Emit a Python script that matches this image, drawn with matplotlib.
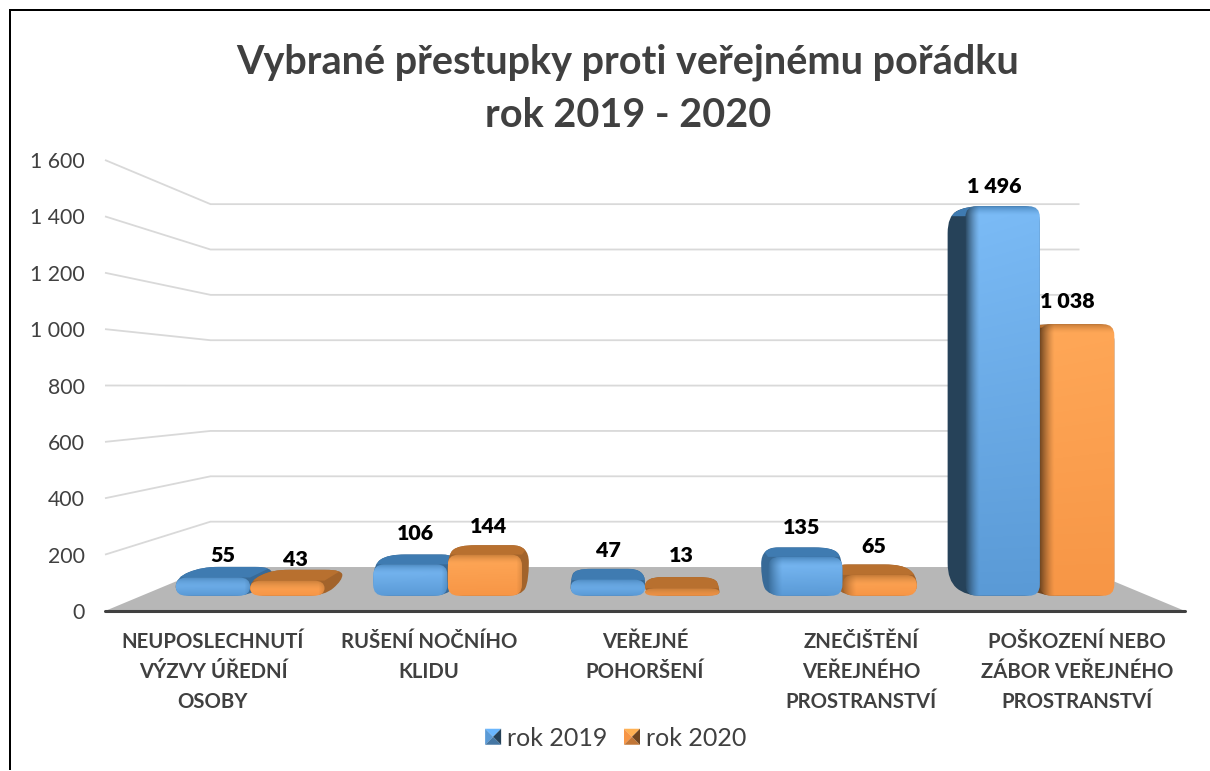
import numpy as np
import matplotlib
matplotlib.use("Agg")
import matplotlib.pyplot as plt
from matplotlib.colors import to_rgb
from matplotlib.lines import Line2D
from matplotlib.path import Path
from matplotlib.patches import PathPatch, Polygon, Patch
from matplotlib.legend_handler import HandlerBase

# ---- data ----
categories = ["NEUPOSLECHNUTÍ\nVÝZVY ÚŘEDNÍ\nOSOBY", "RUŠENÍ NOČNÍHO\nKLIDU",
              "VEŘEJNÉ\nPOHORŠENÍ", "ZNEČIŠTĚNÍ\nVEŘEJNÉHO\nPROSTRANSTVÍ",
              "POŠKOZENÍ NEBO\nZÁBOR VEŘEJNÉHO\nPROSTRANSTVÍ"]
rok_2019 = [55, 106, 47, 135, 1496]
rok_2020 = [43, 144, 13, 65, 1038]
y_ticks = [0, 200, 400, 600, 800, 1000, 1200, 1400, 1600]
y_tick_labels = ["0", "200", "400", "600", "800", "1 000", "1 200", "1 400", "1 600"]
series_names = ["rok 2019", "rok 2020"]
title = "Vybrané přestupky proti veřejnému pořádku\nrok 2019 - 2020"

# ---- style ----
W, H = 1210, 771
L, R, B, T = 105, 1185, 611, 160          # plot box, pixels from the top left
FONT = "Lato"
GREY = "#404040"
SHRINK = 1 - (1080 - 211) / (1185 - 105)  # perspective shrink at the back wall
RISE = 156.0                              # floor rise at the back wall, value units
D_FRONT, D_BACK, D_LABEL = 0.44, 0.70, 0.55
BAR_W = 0.377
DROP = 16.0
LABEL_NUDGE = {0: [-7, 3, 0, 1, 0], 1: [-8, 0, 4, 0, 0]}  # fine label shift, px

PALETTE = [
    dict(hi="#7cbcf7", lo="#5a9ad6", side="#264259", top="#3f7bb1"),
    dict(hi="#ffa858", lo="#f79646", side="#6f4520", top="#b8702f"),
]

fig = plt.figure(figsize=(W / 100, H / 100), dpi=100, facecolor="white")
ax = fig.add_axes([L / W, (H - B) / H, (R - L) / W, (B - T) / H])
ax.set_xlim(-0.5, 4.5)
ax.set_ylim(0, 1600)
SX = (R - L) / 5.0
SY = (B - T) / 1600.0
CX = 2.0


def proj(x, v, d):
    s = 1 - SHRINK * d
    return (CX + (x - CX) * s, v * s + RISE * d)


def rounded(points, r):
    """Closed path through data-space points with corners rounded by r pixels."""
    pts = np.array(points, float)
    n = len(pts)
    verts, codes = [], []
    for i in range(n):
        p, a, b = pts[i], pts[i - 1], pts[(i + 1) % n]
        pa = np.array([(a[0] - p[0]) * SX, (a[1] - p[1]) * SY])
        pb = np.array([(b[0] - p[0]) * SX, (b[1] - p[1]) * SY])
        la, lb = np.hypot(*pa), np.hypot(*pb)
        ra = min(r, la / 2) / max(la, 1e-6)
        rb = min(r, lb / 2) / max(lb, 1e-6)
        q1 = p + (a - p) * ra
        q2 = p + (b - p) * rb
        verts += [q1, p, q2]
        codes += [Path.MOVETO if i == 0 else Path.LINETO, Path.CURVE3, Path.CURVE3]
    verts.append(verts[0])
    codes.append(Path.CLOSEPOLY)
    return Path(np.array(verts), codes)


def hull(points):
    key = sorted({(round(p[0], 6), round(p[1], 6)) for p in points})

    def cross(o, a, b):
        return (a[0] - o[0]) * SX * (b[1] - o[1]) * SY - (a[1] - o[1]) * SY * (b[0] - o[0]) * SX

    def half(seq):
        out = []
        for p in seq:
            while len(out) > 1 and cross(out[-2], out[-1], p) <= 0:
                out.pop()
            out.append(p)
        return out[:-1]

    return half(key) + half(key[::-1])


def front_image(w, h, pal, strip_side, side_rgb):
    hi, lo = np.array(to_rgb(pal["hi"])), np.array(to_rgb(pal["lo"]))
    top = np.array(to_rgb(pal["top"]))
    t = np.linspace(0, 1, h)[:, None, None]
    u = np.linspace(0, 1, w)[None, :, None]
    img = hi * (1 - t) + lo * t
    img = img * (1 - 0.06 * u) + lo * 0.06 * u
    xp = np.arange(w)[None, :, None]
    yp = np.arange(h)[:, None, None]
    a_top = np.clip(1 - yp / 9.0, 0, 1) ** 1.5 * 0.75
    img = img * (1 - a_top) + top * a_top
    if strip_side == "left":
        a = np.clip(1 - xp / 14.0, 0, 1) ** 1.3 * 0.95
    elif strip_side == "right":
        a = np.clip(1 - (w - 1 - xp) / 6.0, 0, 1) * 0.35
    else:
        a = np.zeros_like(xp, dtype=float)
    return img * (1 - a) + side_rgb * a


def draw_bar(x0, x1, v, pal, z):
    center = (x0 + x1) / 2
    if center < CX - 0.2:
        strip = "right"
    elif center > CX + 0.2:
        strip = "left"
    else:
        strip = None
    side_rgb = np.array(to_rgb(pal["side"]))
    if v < 500:
        side_rgb = side_rgb * 0.3 + np.array(to_rgb(pal["top"])) * 0.7
    f = [proj(x0, -DROP, D_FRONT), proj(x1, -DROP, D_FRONT),
         proj(x1, v, D_FRONT), proj(x0, v, D_FRONT)]
    b = [proj(x0, 0, D_BACK), proj(x1, 0, D_BACK),
         proj(x1, v, D_BACK), proj(x0, v, D_BACK)]
    shell = rounded(hull(f + b), 17)
    shell_patch = PathPatch(shell, fc=side_rgb, ec="none", zorder=z)
    ax.add_patch(shell_patch)
    top = Polygon([f[3], f[2], b[2], b[3]], closed=True, fc=pal["top"], ec="none", zorder=z + 0.1)
    ax.add_patch(top)
    top.set_clip_path(shell_patch)
    face = rounded(f, 11)
    wpx = max(int((f[1][0] - f[0][0]) * SX), 2)
    hpx = max(int((f[2][1] - f[0][1]) * SY), 2)
    im = ax.imshow(front_image(wpx, hpx, pal, strip, side_rgb),
                   extent=(f[0][0], f[1][0], f[0][1], f[2][1]),
                   origin="upper", aspect="auto", zorder=z + 0.2, interpolation="bilinear")
    im.set_clip_path(face, ax.transData)


# floor, walls and gridlines
xa, xb = -0.5, 4.5
ax.add_patch(Polygon([proj(xa, 0, 0), proj(xb, 0, 0), proj(xb, 0, 1), proj(xa, 0, 1)],
                     closed=True, fc="#b7b7b7", ec="none", zorder=1))
for v in y_ticks[1:]:
    p0, p1, p2 = proj(xa, v, 0), proj(xa, v, 1), proj(xb, v, 1)
    ax.plot([p0[0], p1[0], p2[0]], [p0[1], p1[1], p2[1]], color="#d9d9d9", lw=1.3,
            solid_capstyle="butt", zorder=0.5, clip_on=False)
ax.plot([xa, xb], [0, 0], color=GREY, lw=2.2, zorder=2, clip_on=False, solid_capstyle="round")

# bars, far from the centre first
bars = []
for i in range(len(categories)):
    bars.append((abs(i + BAR_W / 2 - CX), 1, i, i, i + BAR_W, rok_2020[i]))
    bars.append((abs(i - BAR_W / 2 - CX), 0, i, i - BAR_W, i, rok_2019[i]))
bars.sort(key=lambda q: -round(q[0], 4))
for n, (_, s, i, x0, x1, v) in enumerate(bars):
    draw_bar(x0, x1, v, PALETTE[s], 3 + n)

# data labels
for s, values in enumerate([rok_2019, rok_2020]):
    for i, v in enumerate(values):
        xc = i - BAR_W / 2 if s == 0 else i + BAR_W / 2
        ax.annotate(f"{v:,}".replace(",", " "), xy=proj(xc, v, D_LABEL),
                    xytext=(0, (24 + LABEL_NUDGE[s][i]) * 0.72), textcoords="offset points",
                    ha="center", va="center", fontsize=15.4, fontweight="heavy",
                    family=FONT, color="black", zorder=60)

# axes text
for sp in ax.spines.values():
    sp.set_visible(False)
ax.patch.set_visible(False)
ax.set_xticks(range(len(categories)))
ax.set_xticklabels(categories, fontsize=14.6, fontweight="bold", family=FONT, color=GREY,
                   linespacing=1.62)
ax.set_yticks(y_ticks)
ax.set_yticklabels(y_tick_labels, fontsize=15.3, family=FONT, color=GREY)
ax.tick_params(axis="x", length=0, pad=15)
ax.tick_params(axis="y", length=0, pad=14.4)

fig.text(628 / W, 1 - 88.5 / H, title, ha="center", va="center", fontsize=28.5, fontweight="bold",
         family=FONT, color=GREY, linespacing=1.54)


class PyramidHandler(HandlerBase):
    def create_artists(self, legend, orig, xd, yd, width, height, fontsize, trans):
        c = np.array(to_rgb(orig.get_facecolor()))
        dark = np.array(to_rgb(orig.get_edgecolor()))
        x0, y0 = -xd, -yd
        size = width
        y0 -= (size - height) / 2
        x1, y1 = x0 + size, y0 + size
        m = (x0 + size / 2, y0 + size / 2)
        light = np.clip(c * 1.18, 0, 1)
        faces = [([(x0, y1), (x1, y1), m], light),
                 ([(x0, y0), (x0, y1), m], c),
                 ([(x0, y0), (x1, y0), m], c * 0.6 + dark * 0.4),
                 ([(x1, y0), (x1, y1), m], dark)]
        return [Polygon(p, closed=True, fc=col, ec="none", transform=trans)
                for p, col in faces]


handles = [Patch(fc=PALETTE[0]["lo"], ec=PALETTE[0]["side"]),
           Patch(fc=PALETTE[1]["lo"], ec=PALETTE[1]["side"])]
fig.legend(handles, series_names, handler_map={Patch: PyramidHandler()}, loc="center",
           bbox_to_anchor=(615.5 / W, 1 - 738 / H), ncol=2, frameon=False,
           prop={"family": FONT, "size": 18}, labelcolor=GREY, handlelength=0.64,
           handleheight=0.7, handletextpad=0.22, columnspacing=0.68)

# open frame: only the top and left edges exist
fig.add_artist(Line2D([10 / W, 10 / W, 1], [1 / H, 1 - 10 / H, 1 - 10 / H],
                      transform=fig.transFigure, color="black", lw=1.44,
                      solid_joinstyle="miter", solid_capstyle="butt"))

fig.savefig("out.png", dpi=100)
